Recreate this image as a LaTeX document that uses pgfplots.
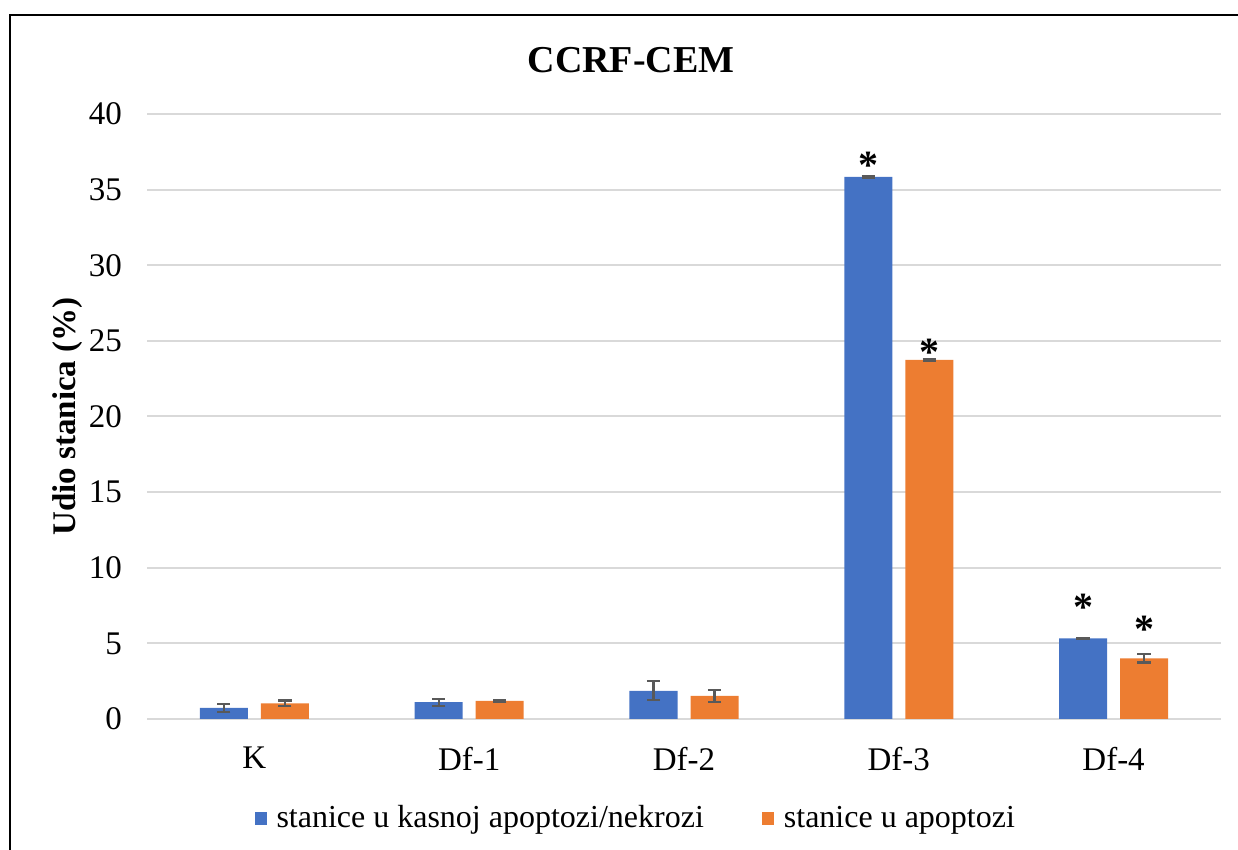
\documentclass[border=0pt]{standalone}
\usepackage{pgfplots}
\usepackage{pgfplotstable}
\pgfplotsset{compat=1.18}
\usepackage{fontspec}
\setmainfont{Liberation Serif}

\definecolor{barblue}{HTML}{4472C4}
\definecolor{barorange}{HTML}{ED7D31}
\definecolor{gridgray}{HTML}{D9D9D9}
\definecolor{errgray}{HTML}{595959}

% x: K=0, Df-1=1, ... ; e = error; off = yshift of the asterisk (pt)
\pgfplotstableread{
x y e lab off
0 0.73 0.26 {} 0
1 1.11 0.23 {} 0
2 1.86 0.63 {} 0
3 35.85 0.05 * 5.5
4 5.33 0.05 * 15.5
}\late
\pgfplotstableread{
x y e lab off
0 1.04 0.18 {} 0
1 1.20 0.07 {} 0
2 1.53 0.41 {} 0
3 23.74 0.05 * 4
4 4.01 0.28 * 14.5
}\apop

\begin{document}
\begin{tikzpicture}
\useasboundingbox (0,0) rectangle (619pt,425pt);
\draw[line width=1pt] (5pt,-5pt) -- (5pt,417.5pt) -- (630pt,417.5pt);
\begin{axis}[
    at={(73.5pt,65.5pt)}, anchor=south west,
    scale only axis,
    width=537pt, height=302.5pt,
    ybar=6.5pt, bar width=24pt,
    xmin=-0.5, xmax=4.5,
    ymin=0, ymax=40,
    ytick={0,5,...,40},
    xtick=data,
    xticklabels={K, Df-1, Df-2, Df-3, Df-4},
    ymajorgrids,
    grid style={gridgray, line width=1pt},
    axis line style={draw=none},
    major tick length=0pt,
    /pgf/number format/assume math mode=true,
    tick label style={font=\fontsize{16.5}{18}\selectfont},
    xticklabel style={yshift=-10.5pt},
    yticklabel style={xshift=-9pt},
    ylabel={Udio stanica (\%)},
    ylabel style={font=\fontsize{16.5}{18}\selectfont\bfseries,
        at={(axis description cs:-0.0735,0.5)}, anchor=center},
    title={CCRF-CEM},
    title style={font=\fontsize{19}{22}\selectfont\bfseries,
        at={(axis description cs:0.4507,1.069)}, anchor=center},
    legend columns=2,
    legend style={draw=none, font=\fontsize{16}{18}\selectfont,
        at={(axis description cs:0.456,-0.164)}, anchor=center,
        /tikz/every odd column/.append style={column sep=3pt},
        /tikz/every even column/.append style={column sep=27pt}},
    legend cell align=left,
    point meta=explicit symbolic,
    nodes near coords,
    visualization depends on={\thisrow{off} \as \myoff},
    nodes near coords style={font=\fontsize{20}{22}\selectfont\bfseries,
        anchor=center, yshift=\myoff pt},
    error bars/y dir=both,
    error bars/y explicit,
    error bars/error bar style={errgray, line width=1.1pt},
    error bars/error mark options={errgray, rotate=90, mark size=3.3pt, line width=1.1pt},
]
\addplot[fill=barblue, draw=none,
    legend image code/.code={\fill[barblue] (0pt,-3.3pt) rectangle (6pt,3.3pt);}]
    table[x=x, y=y, y error=e, meta=lab] {\late};
\addlegendentry{stanice u kasnoj apoptozi/nekrozi}
\addplot[fill=barorange, draw=none,
    legend image code/.code={\fill[barorange] (0pt,-3.3pt) rectangle (6pt,3.3pt);}]
    table[x=x, y=y, y error=e, meta=lab] {\apop};
\addlegendentry{stanice u apoptozi}
\end{axis}
\end{tikzpicture}
\end{document}
